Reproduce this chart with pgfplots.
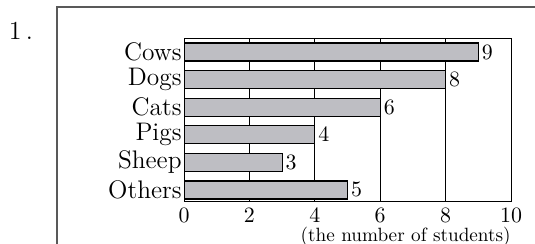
\documentclass[border=0pt]{standalone}
\usepackage{pgfplots}
\pgfplotsset{compat=1.18}
\definecolor{barfill}{RGB}{190,190,195}
\begin{document}
\begin{tikzpicture}
\useasboundingbox (0,0) rectangle (267.5pt,122pt);
\draw[line width=0.7pt, black!65] (28.5pt,0) -- (28.5pt,118.5pt) -- (267.5pt,118.5pt);
\node[anchor=center, font=\fontsize{13}{15}\selectfont] at (10.5pt,106.5pt) {1\,.};
\begin{axis}[at={(92pt,21.25pt)}, anchor=south west, scale only axis,
  width=163.5pt, height=81.5pt,
  xbar, xmin=0, xmax=10, ymin=-0.42, ymax=5.49,
  xtick={0,2,4,6,8,10}, ytick={0,1,2,3,4,5},
  yticklabels={Others,Sheep,Pigs,Cats,Dogs,Cows},
  xmajorgrids, major grid style={black, line width=0.5pt},
  major tick length=0pt,
  bar width=9pt,
  axis line style={line width=0.5pt},
  xticklabel style={font=\fontsize{10.5}{12}\selectfont, anchor=north, inner sep=0.5pt, yshift=-2.5pt},
  yticklabel style={font=\fontsize{12.7}{15}\selectfont, inner sep=1pt},
  nodes near coords,
  nodes near coords style={font=\fontsize{11}{13}\selectfont, inner sep=1.5pt},
  xlabel={(the number of students)},
  xlabel style={at={(rel axis cs:1,0)}, anchor=east, yshift=-17.5pt, inner sep=0pt, font=\fontsize{9.6}{11}\selectfont},
]
\addplot[fill=barfill, draw=black, line width=0.6pt] coordinates {(5,0) (3,1) (4,2) (6,3) (8,4) (9,5)};
\end{axis}
\end{tikzpicture}
\end{document}
